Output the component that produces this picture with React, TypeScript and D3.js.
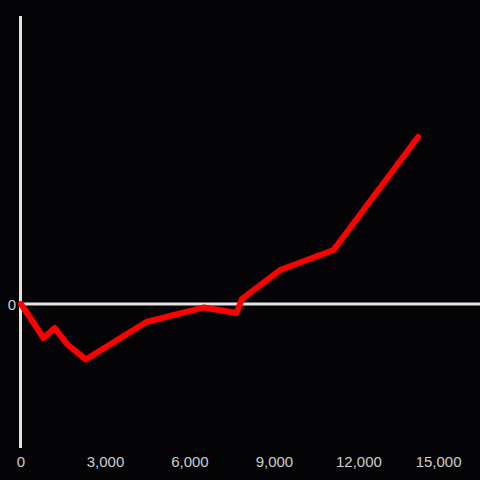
import React from "react";
import * as d3 from "d3";

const xValues = [0, 800, 1200, 1650, 2300, 4450, 6500, 7650, 7850, 9200, 11100, 14100];
const yValues = [0, -0.236, -0.167, -0.281, -0.385, -0.125, -0.024, -0.0625, 0.035, 0.236, 0.375, 1.16];
const xTicks = [0, 3000, 6000, 9000, 12000, 15000];
const yTicks = [0];

const W = 480;
const H = 480;

export default function App() {
  const x = d3.scaleLinear().domain([0, 16300]).range([21, 480]);
  const y = d3.scaleLinear().domain([-1, 2]).range([448, 16]);
  const fmt = d3.format(",");
  const pts: [number, number][] = xValues.map((v, i) => [v, yValues[i]]);
  const line = d3
    .line<[number, number]>()
    .x((d) => x(d[0]))
    .y((d) => y(d[1]));
  const font = "'Liberation Sans', Arial, sans-serif";
  return (
    <svg
      width={W}
      height={H}
      style={{ position: "absolute", left: 0, top: 0, display: "block" }}
    >
      <rect x={0} y={0} width={W} height={H} fill="#040306" />
      <line x1={x(0) - 0.5} x2={x(0) - 0.5} y1={y(2)} y2={y(-1)} stroke="#e3e3e3" strokeWidth={3} />
      {yTicks.map((t) => (
        <line key={t} x1={x(0) - 2} x2={W} y1={y(t)} y2={y(t)} stroke="#e3e3e3" strokeWidth={3} />
      ))}
      {yTicks.map((t) => (
        <text
          key={"yl" + t}
          x={16}
          y={y(t) + 6}
          textAnchor="end"
          fill="#cfcfcf"
          fontSize={15}
          fontFamily={font}
        >
          {fmt(t)}
        </text>
      ))}
      {xTicks.map((t) => {
        const label = fmt(t);
        const halfW = label.length * 3.9;
        const cx = Math.min(x(t), W - 18 - halfW);
        return (
          <text
            key={"xl" + t}
            x={cx}
            y={467}
            textAnchor="middle"
            fill="#cfcfcf"
            fontSize={15}
            fontFamily={font}
          >
            {label}
          </text>
        );
      })}
      <path
        d={line(pts) || ""}
        fill="none"
        stroke="#ff0000"
        strokeWidth={6}
        strokeLinejoin="round"
        strokeLinecap="round"
      />
    </svg>
  );
}
